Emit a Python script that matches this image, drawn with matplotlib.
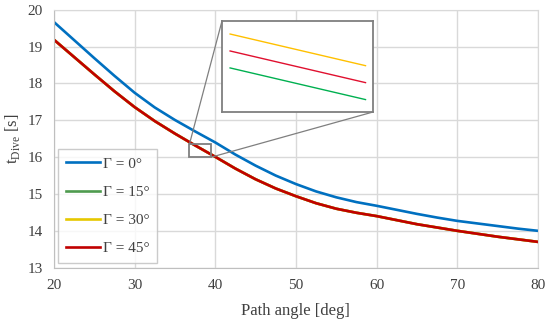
import matplotlib
matplotlib.use("Agg")
import matplotlib.pyplot as plt
from matplotlib.patches import Rectangle, ConnectionPatch

# path angle [deg]
angle = [20, 22.5, 25, 27.5, 30, 32.5, 35, 37.5, 40, 42.5, 45, 47.5, 50,
         52.5, 55, 57.5, 60, 62.5, 65, 67.5, 70, 72.5, 75, 77.5, 80]

# dive time [s] for each bank angle
t_g0 = [19.67, 19.18, 18.69, 18.21, 17.75, 17.35, 17.01, 16.70, 16.40, 16.07, 15.77, 15.50, 15.27,
        15.07, 14.91, 14.78, 14.68, 14.57, 14.46, 14.36, 14.27, 14.20, 14.13, 14.06, 14.00]
t_g15 = [19.19, 18.72, 18.25, 17.79, 17.36, 16.98, 16.64, 16.32, 16.01, 15.69, 15.40, 15.15, 14.94,
         14.75, 14.60, 14.49, 14.40, 14.29, 14.18, 14.09, 14.00, 13.92, 13.84, 13.77, 13.70]
t_g30 = [19.19, 18.72, 18.25, 17.79, 17.36, 16.98, 16.64, 16.32, 16.01, 15.69, 15.40, 15.15, 14.94,
         14.75, 14.60, 14.49, 14.40, 14.29, 14.18, 14.09, 14.00, 13.92, 13.84, 13.77, 13.70]
t_g45 = [19.19, 18.72, 18.25, 17.79, 17.36, 16.98, 16.64, 16.32, 16.01, 15.69, 15.40, 15.15, 14.94,
         14.75, 14.60, 14.49, 14.40, 14.29, 14.18, 14.09, 14.00, 13.92, 13.84, 13.77, 13.70]

# magnified detail shown in the inset
zoom_angle = [37.0, 39.0]
zoom_g15 = [16.140, 16.084]
zoom_g30 = [16.200, 16.144]
zoom_g45 = [16.170, 16.114]

labels = ["Γ = 0°", "Γ = 15°", "Γ = 30°", "Γ = 45°"]
colors = ["#0070c0", "#4e9a4e", "#e6c800", "#c00000"]

plt.rcParams["font.family"] = ["Liberation Serif", "DejaVu Serif"]
plt.rcParams["mathtext.fontset"] = "custom"
plt.rcParams["mathtext.rm"] = "Liberation Serif"

fig = plt.figure(figsize=(5.5, 3.28), dpi=100)
ax = fig.add_axes([0.098, 0.184, 0.880, 0.786])

ax.plot(angle, t_g0, color=colors[0], lw=1.9, label=labels[0])
ax.plot(angle, t_g15, color=colors[1], lw=1.9, label=labels[1])
ax.plot(angle, t_g30, color=colors[2], lw=1.9, label=labels[2])
ax.plot(angle, t_g45, color=colors[3], lw=1.9, label=labels[3])

ax.set_xlim(20, 80)
ax.set_ylim(13, 20)
ax.set_xticks(range(20, 81, 10))
ax.set_yticks(range(13, 21))
ax.grid(True, color="#d9d9d9", lw=1.0)
ax.set_axisbelow(True)
ax.tick_params(length=0, labelsize=11, colors="#404040", pad=8)
for s in ax.spines.values():
    s.set_color("#d9d9d9")
ax.spines["left"].set_color("#bfbfbf")
ax.spines["bottom"].set_color("#bfbfbf")

ax.set_xlabel("Path angle [deg]", fontsize=12, color="#404040", labelpad=8)
ax.set_ylabel(r"$\mathrm{t}_{\mathrm{Dive}}$ [s]", fontsize=12, color="#404040", labelpad=4)

leg = ax.legend(loc="lower left", fontsize=11, frameon=True, fancybox=False,
                edgecolor="#bfbfbf", labelspacing=0.95, handlelength=2.2,
                handletextpad=0.2, borderpad=0.5, borderaxespad=0.3)
leg.get_frame().set_linewidth(1.0)
for t in leg.get_texts():
    t.set_color("#404040")

# zoom window on the main axes
x0, x1, y0, y1 = 36.8, 39.5, 16.0, 16.35
ax.add_patch(Rectangle((x0, y0), x1 - x0, y1 - y0, fill=False,
                       edgecolor="#7f7f7f", lw=1.3, zorder=5))

ins = fig.add_axes([0.4036, 0.6585, 0.2745, 0.2774])
ins.plot(zoom_angle, zoom_g30, color="#ffc000", lw=1.0)
ins.plot(zoom_angle, zoom_g45, color="#e0102f", lw=1.0)
ins.plot(zoom_angle, zoom_g15, color="#00b050", lw=1.0)
ins.set_xlim(36.88, 39.11)
ins.set_ylim(16.062, 16.223)
ins.set_xticks([])
ins.set_yticks([])
for s in ins.spines.values():
    s.set_color("#7f7f7f")
    s.set_linewidth(1.3)

for xa, ya in [((0, 1), (x0, y1)), ((1, 0), (x1, y0))]:
    cp = ConnectionPatch(xyA=xa, coordsA=ins.transAxes, xyB=ya, coordsB=ax.transData,
                         color="#7f7f7f", lw=0.9)
    fig.add_artist(cp)

fig.savefig("out.png", dpi=100)
